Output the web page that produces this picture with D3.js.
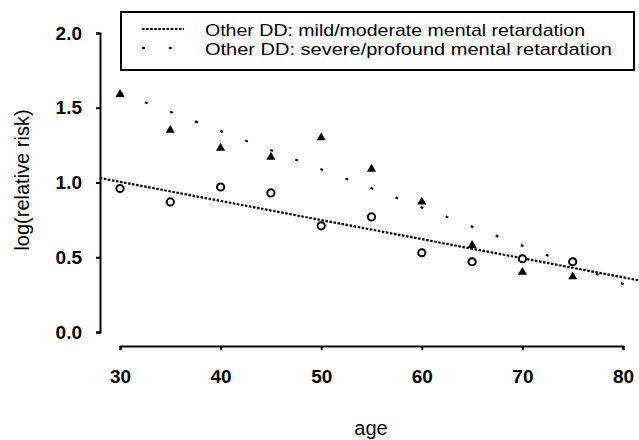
<!DOCTYPE html>
<html>
<head>
<meta charset="utf-8">
<script src="https://cdn.jsdelivr.net/npm/d3@7"></script>
<style>
  body { margin: 0; background: #fff; }
  svg { display: block; font-family: "Liberation Sans", Arial, sans-serif; }
</style>
</head>
<body>
<script>
// data
var ages = [30, 35, 40, 45, 50, 55, 60, 65, 70, 75];
var mildValues = [0.96, 0.87, 0.97, 0.93, 0.71, 0.77, 0.53, 0.47, 0.49, 0.47];
var severeValues = [1.59, 1.35, 1.23, 1.17, 1.30, 1.09, 0.87, 0.58, 0.40, 0.37];
// fitted lines, end points (age, value)
var mildFitAges = [28, 82];
var mildFitValues = [1.03, 0.34];
var severeFitAges = [30, 82];
var severeFitValues = [1.60, 0.27];
var xTicks = [30, 40, 50, 60, 70, 80];
var yTicks = [0, 0.5, 1.0, 1.5, 2.0];
var legendLabels = ["Other DD: mild/moderate mental retardation",
                    "Other DD: severe/profound mental retardation"];

var width = 639, height = 440;

var svg = d3.select("body").append("svg")
	.attr("width", width)
	.attr("height", height);

var x = d3.scaleLinear().domain([30, 80]).range([120, 623]);
var y = d3.scaleLinear().domain([0, 2]).range([332, 33]);

// y axis, set off to the left
svg.append("g")
	.attr("transform", "translate(100,0)")
	.call(d3.axisLeft(y).tickValues(yTicks).tickFormat(d3.format(".1f")).tickSizeOuter(0).tickSize(4).tickPadding(14));

// x axis, set below
svg.append("g")
	.attr("transform", "translate(0,346)")
	.call(d3.axisBottom(x).tickValues(xTicks).tickSizeOuter(0).tickSize(4).tickPadding(20));

svg.selectAll(".domain, .tick line")
	.attr("stroke", "#000")
	.attr("stroke-width", 2);
svg.selectAll(".tick text")
	.attr("fill", "#000")
	.style("font-size", "19px")
	.style("font-weight", "bold");

// axis titles
svg.append("text")
	.attr("x", 371)
	.attr("y", 435)
	.attr("text-anchor", "middle")
	.style("font-size", "20px")
	.text("age");
svg.append("text")
	.attr("transform", "translate(29,180) rotate(-90)")
	.attr("text-anchor", "middle")
	.style("font-size", "20px")
	.text("log(relative risk)");

// fitted lines
var fitLine = d3.line()
	.x(function(d) { return x(d[0]); })
	.y(function(d) { return y(d[1]); });

svg.append("path")
	.datum(d3.zip(mildFitAges, mildFitValues))
	.attr("d", fitLine)
	.attr("fill", "none")
	.attr("stroke", "#000")
	.attr("stroke-width", 2.2)
	.attr("stroke-dasharray", "2.5,1.6");

svg.append("path")
	.datum(d3.zip(severeFitAges, severeFitValues))
	.attr("d", fitLine)
	.attr("fill", "none")
	.attr("stroke", "#000")
	.attr("stroke-width", 2.2)
	.attr("stroke-dasharray", "2.8,24");

// open circles: mild/moderate
svg.selectAll(".mild")
	.data(d3.zip(ages, mildValues))
	.enter()
	.append("circle")
	.attr("class", "mild")
	.attr("cx", function(d) { return x(d[0]); })
	.attr("cy", function(d) { return y(d[1]); })
	.attr("r", 3.6)
	.attr("fill", "#fff")
	.attr("stroke", "#000")
	.attr("stroke-width", 2);

// filled triangles: severe/profound
svg.selectAll(".severe")
	.data(d3.zip(ages, severeValues))
	.enter()
	.append("path")
	.attr("class", "severe")
	.attr("transform", function(d) { return "translate(" + x(d[0]) + "," + y(d[1]) + ")"; })
	.attr("d", d3.symbol().type(d3.symbolTriangle).size(36))
	.attr("fill", "#000");

// legend
var legend = svg.append("g");
legend.append("rect")
	.attr("x", 121)
	.attr("y", 12)
	.attr("width", 513)
	.attr("height", 58)
	.attr("fill", "#fff")
	.attr("stroke", "#000")
	.attr("stroke-width", 2);

var rows = legend.selectAll(".row")
	.data(legendLabels)
	.enter()
	.append("g")
	.attr("class", "row")
	.attr("transform", function(d, i) { return "translate(0," + (i * 19) + ")"; });

rows.append("line")
	.attr("x1", 142)
	.attr("x2", 184)
	.attr("y1", 29)
	.attr("y2", 29)
	.attr("stroke", "#000")
	.attr("stroke-width", 2.2)
	.attr("stroke-dasharray", function(d, i) { return i == 0 ? "2.5,1.6" : "2.8,24"; });

rows.append("text")
	.attr("x", 205)
	.attr("y", 36)
	.style("font-size", "17px")
	.attr("textLength", function(d, i) { return i == 0 ? 380 : 407; })
	.attr("lengthAdjust", "spacingAndGlyphs")
	.text(function(d) { return d; });
</script>
</body>
</html>
